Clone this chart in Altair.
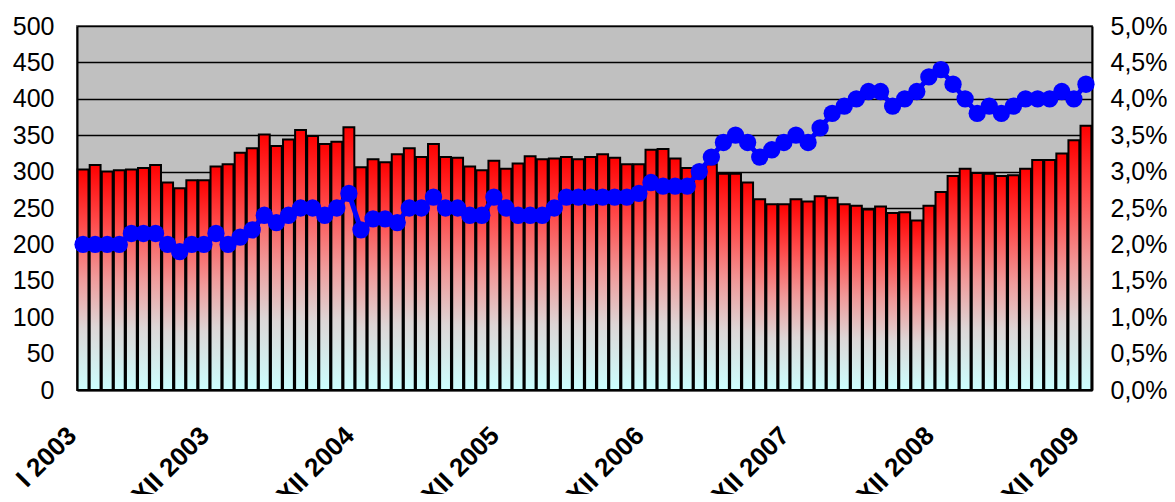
import altair as alt
import pandas as pd

roman = ["I", "II", "III", "IV", "V", "VI", "VII", "VIII", "IX", "X", "XI", "XII"]
years = [2003, 2004, 2005, 2006, 2007, 2008, 2009]
months = [f"{m} {y}" for y in years for m in roman]

bar_values = [
    303, 309, 300, 302, 303, 305, 309, 285, 277, 288, 288, 307,
    310, 326, 332, 351, 335, 344, 357, 349, 338, 341, 361, 306,
    317, 313, 324, 332, 320, 338, 320, 319, 307, 302, 315, 304,
    311, 321, 317, 318, 320, 317, 320, 324, 319, 310, 310, 330,
    331, 318, 305, 300, 310, 297, 297, 285, 262, 255, 255, 262,
    259, 266, 264, 255, 253, 248, 252, 243, 244, 233, 253, 272,
    294, 304, 298, 297, 294, 295, 304, 316, 316, 325, 343, 363,
]

rate_values = [
    2.0, 2.0, 2.0, 2.0, 2.15, 2.15, 2.15, 2.0, 1.9, 2.0, 2.0, 2.15,
    2.0, 2.1, 2.2, 2.4, 2.3, 2.4, 2.5, 2.5, 2.4, 2.5, 2.7, 2.2,
    2.35, 2.35, 2.3, 2.5, 2.5, 2.65, 2.5, 2.5, 2.4, 2.4, 2.65, 2.5,
    2.4, 2.4, 2.4, 2.5, 2.65, 2.65, 2.65, 2.65, 2.65, 2.65, 2.7, 2.85,
    2.8, 2.8, 2.8, 3.0, 3.2, 3.4, 3.5, 3.4, 3.2, 3.3, 3.4, 3.5,
    3.4, 3.6, 3.8, 3.9, 4.0, 4.1, 4.1, 3.9, 4.0, 4.1, 4.3, 4.4,
    4.2, 4.0, 3.8, 3.9, 3.8, 3.9, 4.0, 4.0, 4.0, 4.1, 4.0, 4.2,
]

tick_labels = ["I 2003", "XII 2003", "XII 2004", "XII 2005", "XII 2006",
               "XII 2007", "XII 2008", "XII 2009"]

df = pd.DataFrame({"month": months, "value": bar_values, "rate": rate_values})

FONT = "Liberation Sans"

x_enc = alt.X(
    "month:N",
    sort=months,
    scale=alt.Scale(paddingInner=0.1, paddingOuter=0.05),
    axis=alt.Axis(
        values=tick_labels,
        title=None,
        labelAngle=-45,
        labelAlign="right",
        labelBaseline="top",
        labelFontSize=26,
        labelFontWeight="bold",
        labelFont=FONT,
        labelColor="black",
        labelPadding=32,
        labelOffset=-20,
        ticks=False,
        domainColor="black",
        domainWidth=2,
        grid=False,
    ),
)

bars = alt.Chart(df).mark_bar(
    color=alt.Gradient(
        gradient="linear",
        x1=0, x2=0, y1=0, y2=1,
        stops=[
            alt.GradientStop(offset=0, color="#FF0000"),
            alt.GradientStop(offset=0.25, color="#FF4A4A"),
            alt.GradientStop(offset=0.5, color="#F09A9A"),
            alt.GradientStop(offset=0.72, color="#DDD6D6"),
            alt.GradientStop(offset=1, color="#CCFFFF"),
        ],
    ),
    stroke="black",
    strokeWidth=2,
).encode(
    x=x_enc,
    y=alt.Y(
        "value:Q",
        scale=alt.Scale(domain=[0, 500], nice=False),
        axis=alt.Axis(
            title=None,
            values=list(range(0, 501, 50)),
            labelFontSize=25,
            labelFont=FONT,
            labelColor="black",
            labelPadding=23,
            ticks=False,
            domainColor="black",
            domainWidth=2,
            grid=True,
            gridColor="black",
            gridWidth=1.5,
        ),
    ),
)

rate_axis = alt.Axis(
    title=None,
    orient="right",
    values=[i * 0.5 for i in range(11)],
    labelExpr="replace(format(datum.value, '.1f'), '.', ',') + '%'",
    labelFontSize=25,
    labelFont=FONT,
    labelColor="black",
    labelPadding=18,
    ticks=False,
    domainColor="black",
    domainWidth=2,
    grid=False,
)

line = alt.Chart(df).mark_line(
    color="#0000FF",
    strokeWidth=5,
    point=alt.OverlayMarkDef(filled=True, color="#0000FF", size=300, opacity=1),
).encode(
    x=alt.X("month:N", sort=months),
    y=alt.Y("rate:Q", scale=alt.Scale(domain=[0, 5], nice=False), axis=rate_axis),
)

chart = alt.layer(bars, line).resolve_scale(y="independent").properties(
    width=1015,
    height=364,
    autosize=alt.AutoSizeParams(type="none"),
    padding={"left": 69, "top": 18, "right": 75, "bottom": 104},
    background="white",
).configure_view(
    fill="#C0C0C0",
    stroke="#707070",
    strokeWidth=2,
)

chart.save("out.html", embed_options={"renderer": "svg", "actions": False})
